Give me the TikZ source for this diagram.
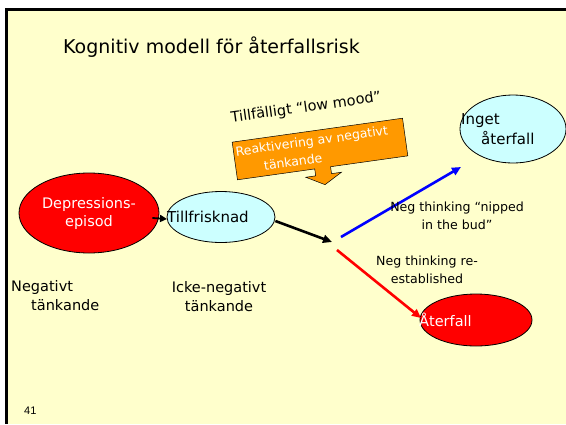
\documentclass[tikz,border=0pt]{standalone}
\usepackage{fontspec}
\setmainfont{DejaVu Sans}
\newfontfamily\numfont{Liberation Sans}
\usetikzlibrary{shapes.geometric,arrows.meta}
\definecolor{slidebg}{HTML}{FFFFCC}
\definecolor{redfill}{HTML}{FF0000}
\definecolor{cyanfill}{HTML}{CCFFFF}
\definecolor{orangefill}{HTML}{FF9900}
\definecolor{bluearrow}{HTML}{0000FF}
\tikzset{
  ell/.style={ellipse, draw=black, line width=0.8pt, inner sep=0pt},
  redell/.style={ell, fill=redfill, text=white},
  cyanell/.style={ell, fill=cyanfill, text=black},
  conn/.style={line width=2.6pt, -{Triangle[length=9pt,width=8pt]}},
  txt/.style={inner sep=0pt, align=center, text=black},
}
\begin{document}
\begin{tikzpicture}[x=1pt,y=-1pt]
\useasboundingbox (0,0) rectangle (566,424);
\fill[white] (0,0) rectangle (566,424);
\fill[slidebg] (7,10) rectangle (566,424);
\fill[black] (5,8) rectangle (566,11);
\fill[black] (5,8) rectangle (8,424);

% title
\node[txt, anchor=west, font=\fontsize{19}{22}\selectfont] (title) at (63,47) {Kognitiv modell för återfallsrisk};

% temporary low mood
\node[txt, rotate=8, font=\fontsize{14.5}{17}\selectfont] (mood) at (306,108) {Tillfälligt “low mood”};

% orange callout
\begin{scope}[shift={(320,149)}, rotate=8, transform shape]
  \draw[fill=orangefill, draw=black, line width=0.5pt]
    (-86,-19) -- (86,-19) -- (86,19) -- (8,19) -- (8,26) -- (18,26) -- (0,36)
    -- (-18,26) -- (-8,26) -- (-8,19) -- (-86,19) -- cycle;
  \node[txt, text=white, anchor=west, font=\fontsize{12.5}{15}\selectfont] (react) at (-84,-8)
    {Reaktivering av negativt};
  \node[txt, text=white, anchor=west, font=\fontsize{12.5}{15}\selectfont] (react2) at (-58,9)
    {tänkande};
\end{scope}

% ellipses
\node[redell, minimum width=140, minimum height=80, font=\fontsize{14.5}{18}\selectfont, align=center] (dep) at (89,213) {Depressions-\\episod};
\node[cyanell, minimum width=108, minimum height=51] (till) at (221,217) {};
\node[txt, anchor=west, font=\fontsize{15}{17}\selectfont] (tilltxt) at (167,217) {Tillfrisknad};
\node[cyanell, minimum width=106, minimum height=68] (inget) at (513,129) {};
\node[txt, align=left, anchor=north west, font=\fontsize{15}{20}\selectfont] (ingettxt) at (461,113) {Inget\\\hspace*{20pt}återfall};
\node[redell, minimum width=112, minimum height=52] (ater) at (476,320) {};
\node[txt, text=white, anchor=west, font=\fontsize{14.5}{17}\selectfont] (atertxt) at (419,320) {Återfall};

% connectors
\coordinate (jn) at (332,242);
\coordinate (bstart) at (341,237);
\coordinate (btip) at (461,167);
\coordinate (rstart) at (337,250);
\coordinate (rtip) at (421,318);
\draw[line width=1.8pt, -{Triangle[length=7pt,width=7pt]}] (dep.east) ++(-7,5) -- (tilltxt.west |- 0,219);
\draw[conn, black] (till.east) ++(0,4) -- (jn);
\draw[conn, bluearrow] (bstart) -- (btip);
\draw[conn, redfill] (rstart) -- (rtip);

% labels
\node[txt, font=\fontsize{12.6}{18}\selectfont] (nip) at (457,216) {Neg thinking “nipped\\in the bud”};
\node[txt, font=\fontsize{12.6}{18}\selectfont] (reest) at (427,270) {Neg thinking re-\\established};
\node[txt, align=left, anchor=north west, font=\fontsize{14.5}{19}\selectfont] (negt) at (11,280) {Negativt\\\hspace*{20pt}tänkande};
\node[txt, align=center, font=\fontsize{14.5}{19}\selectfont] (icke) at (219,297) {Icke-negativt\\tänkande};
\node[txt, anchor=west, font=\numfont\fontsize{11}{13}\selectfont] (num) at (24,411) {41};
\end{tikzpicture}
\end{document}
